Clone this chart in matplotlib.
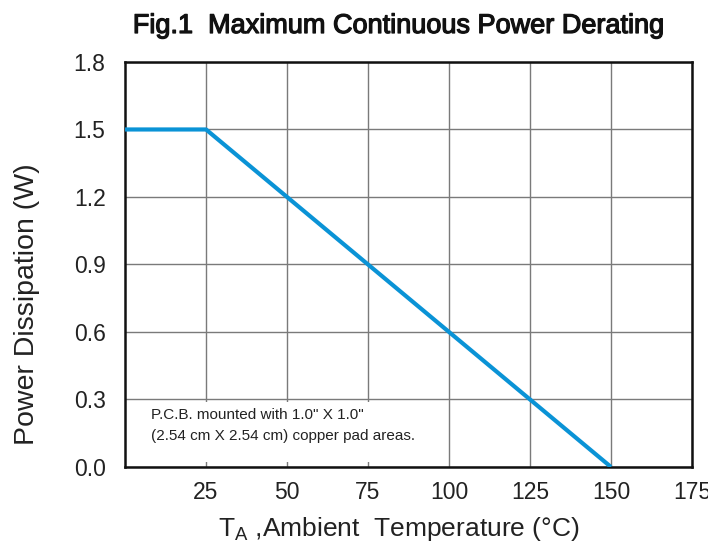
import matplotlib
matplotlib.use("Agg")
import matplotlib.pyplot as plt
from matplotlib.patches import Rectangle
import matplotlib.patheffects as pe

plt.rcParams['font.family'] = ['Liberation Sans', 'DejaVu Sans']

temp = [0, 25, 150]
power = [1.5, 1.5, 0.0]
xticks = [25, 50, 75, 100, 125, 150, 175]
yticks = [0.0, 0.3, 0.6, 0.9, 1.2, 1.5, 1.8]

fig = plt.figure(figsize=(7.08, 5.47), dpi=100)
ax = fig.add_axes([0.1766, 0.1463, 0.8008, 0.7404])
ax.set_axisbelow(True)
ax.plot(temp, power, color='#0a93d6', lw=3, solid_capstyle='butt', zorder=3)
ax.set_xlim(0, 175)
ax.set_ylim(0, 1.8)
ax.set_xticks(xticks)
ax.set_yticks(yticks)
ax.set_yticklabels([f"{v:.1f}" for v in yticks])
ax.grid(True, color='#7a7a7a', lw=1)
ax.tick_params(length=0, labelsize=16.5, colors='#222222')
ax.tick_params(axis='y', pad=14)
ax.tick_params(axis='x', pad=10)
for s in ax.spines.values():
    s.set_linewidth(1.8)
    s.set_color('#111111')

# white background box behind the note
ax.add_patch(Rectangle((0, 0.022), 95, 0.266, facecolor='white', edgecolor='none', zorder=1.5))
ax.text(8, 0.26, 'P.C.B. mounted with 1.0" X 1.0"\n(2.54 cm X 2.54 cm) copper pad areas.',
        fontsize=11, va='top', ha='left', linespacing=1.55, color='#222222', zorder=2)

ax.set_xlabel(r'T$_\mathregular{A}$ ,Ambient  Temperature (°C)', fontsize=19, color='#222222', va='center')
ax.xaxis.set_label_coords(0.483, -0.153)
ax.set_ylabel('Power Dissipation (W)', fontsize=20.5, color='#222222', va='center')
ax.yaxis.set_label_coords(-0.173, 0.402)

fig.text(399 / 708, 1 - 26 / 547, 'Fig.1  Maximum Continuous Power Derating', ha='center', va='center',
         fontsize=19.5, color='#111111',
         path_effects=[pe.withStroke(linewidth=0.9, foreground='#111111')])
fig.savefig('out.png', dpi=100)
